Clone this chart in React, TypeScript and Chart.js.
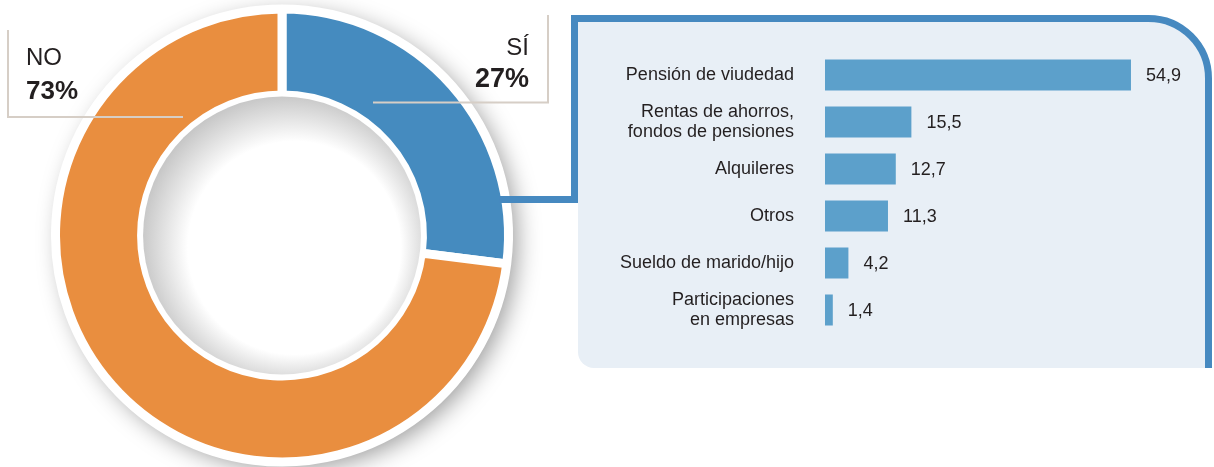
import React, { useEffect, useRef } from "react";
import { Chart, registerables } from "chart.js";

Chart.register(...registerables);

// ---------- data ----------
const pieLabels = ["SÍ", "NO"];
const pieValues = [27, 73];
const pieValueLabels = ["27%", "73%"];

const barCategories: string[][] = [
  ["Pensión de viudedad"],
  ["Rentas de ahorros,", "fondos de pensiones"],
  ["Alquileres"],
  ["Otros"],
  ["Sueldo de marido/hijo"],
  ["Participaciones", "en empresas"],
];
const barValues = [54.9, 15.5, 12.7, 11.3, 4.2, 1.4];

// ---------- styles ----------
const FONT = '"Liberation Sans", Arial, Helvetica, sans-serif';
const TEXT = "#231f20";
const BLUE = "#458bbf";
const ORANGE = "#e98e3f";
const PANEL_BORDER = "#4689c0";
const PANEL_FILL = "#e8eff6";
const BAR = "#5ca0cb";
const BOX_LINE = "#d6cec6";

const fmt = (v: number) => v.toFixed(1).replace(".", ",");

export default function App() {
  const pieRef = useRef<HTMLCanvasElement>(null);
  const barRef = useRef<HTMLCanvasElement>(null);

  useEffect(() => {
    if (!pieRef.current || !barRef.current) return;

    const donutDecor = {
      id: "donutDecor",
      beforeDraw(chart: any) {
        const ctx = chart.ctx;
        ctx.save();
        // right panel fill
        ctx.fillStyle = PANEL_FILL;
        ctx.beginPath();
        ctx.moveTo(578, 22);
        ctx.arcTo(1205, 22, 1205, 368, 55);
        ctx.lineTo(1205, 368);
        ctx.arcTo(578, 368, 578, 22, 16);
        ctx.closePath();
        ctx.fill();
        ctx.restore();
      },
      beforeDatasetsDraw(chart: any) {
        const arc = chart.getDatasetMeta(0).data[0];
        if (!arc) return;
        const ctx = chart.ctx;
        ctx.save();
        ctx.shadowColor = "rgba(0,0,0,0.4)";
        ctx.shadowBlur = 24;
        ctx.shadowOffsetX = 7;
        ctx.shadowOffsetY = 6;
        ctx.fillStyle = "#ffffff";
        ctx.beginPath();
        ctx.arc(arc.x, arc.y, arc.outerRadius + 1, 0, Math.PI * 2);
        ctx.fill();
        ctx.restore();
      },
      afterDatasetsDraw(chart: any) {
        const arc = chart.getDatasetMeta(0).data[0];
        if (!arc) return;
        const ctx = chart.ctx;
        const cx = arc.x, cy = arc.y;
        const r = arc.innerRadius - 1.5;
        ctx.save();
        const g = ctx.createRadialGradient(cx + 22, cy + 22, 40, cx + 6, cy + 6, r + 12);
        g.addColorStop(0, "#ffffff");
        g.addColorStop(0.6, "#ffffff");
        g.addColorStop(1, "#c2c2c2");
        ctx.fillStyle = g;
        ctx.beginPath();
        ctx.arc(cx, cy, r, 0, Math.PI * 2);
        ctx.fill();
        ctx.restore();
      },
      afterDraw(chart: any) {
        const ctx = chart.ctx;
        const arc = chart.getDatasetMeta(0).data[0];
        ctx.save();
        // panel border + connector
        const yc = 199.5;
        const startX = arc
          ? arc.x + Math.sqrt(Math.pow(arc.outerRadius - 4.5, 2) - Math.pow(arc.y - yc, 2)) - 2
          : 501;
        ctx.strokeStyle = PANEL_BORDER;
        ctx.lineWidth = 7;
        ctx.lineJoin = "miter";
        ctx.lineCap = "butt";
        ctx.beginPath();
        ctx.moveTo(startX, yc);
        ctx.lineTo(574.5, yc);
        ctx.lineTo(574.5, 18.5);
        ctx.arcTo(1208.5, 18.5, 1208.5, 368, 60);
        ctx.lineTo(1208.5, 368);
        ctx.stroke();

        // label boxes
        ctx.strokeStyle = BOX_LINE;
        ctx.lineWidth = 2;
        ctx.beginPath();
        ctx.moveTo(8, 30);
        ctx.lineTo(8, 117);
        ctx.lineTo(183, 117);
        ctx.stroke();
        ctx.beginPath();
        ctx.moveTo(548, 15);
        ctx.lineTo(548, 102.5);
        ctx.lineTo(373, 102.5);
        ctx.stroke();

        // label texts
        ctx.fillStyle = TEXT;
        ctx.textBaseline = "alphabetic";
        ctx.textAlign = "left";
        ctx.font = `24px ${FONT}`;
        ctx.fillText(pieLabels[1], 26, 65);
        ctx.font = `bold 26px ${FONT}`;
        ctx.fillText(pieValueLabels[1], 26, 99);
        ctx.textAlign = "right";
        ctx.font = `24px ${FONT}`;
        ctx.fillText(pieLabels[0], 529, 55);
        ctx.font = `bold 27px ${FONT}`;
        ctx.fillText(pieValueLabels[0], 529, 87);
        ctx.restore();
      },
    };

    const pie = new Chart(pieRef.current, {
      type: "doughnut",
      data: {
        labels: pieLabels,
        datasets: [
          {
            data: pieValues,
            backgroundColor: [BLUE, ORANGE],
            borderColor: "#ffffff",
            borderWidth: 9,
            hoverBorderWidth: 9,
          },
        ],
      },
      options: {
        responsive: false,
        animation: false,
        events: [],
        radius: 226.5,
        cutout: "62%",
        layout: { padding: { left: 0, right: 650, top: 4, bottom: 0 } },
        plugins: { legend: { display: false }, tooltip: { enabled: false } },
      } as any,
      plugins: [donutDecor],
    });

    const valueLabels = {
      id: "valueLabels",
      afterDatasetsDraw(chart: any) {
        const ctx = chart.ctx;
        const meta = chart.getDatasetMeta(0);
        ctx.save();
        ctx.fillStyle = TEXT;
        ctx.font = `18px ${FONT}`;
        ctx.textAlign = "left";
        ctx.textBaseline = "middle";
        meta.data.forEach((bar: any, i: number) => {
          ctx.fillText(fmt(barValues[i]), bar.x + 15, bar.y + 1);
        });
        ctx.restore();
      },
    };

    const bar = new Chart(barRef.current, {
      type: "bar",
      data: {
        labels: barCategories,
        datasets: [
          {
            data: barValues,
            backgroundColor: BAR,
            barPercentage: 0.66,
            categoryPercentage: 1,
          },
        ],
      },
      options: {
        indexAxis: "y",
        responsive: false,
        animation: false,
        events: [],
        layout: { padding: { top: 51.5, bottom: 133.5, left: 0, right: 54.6 } },
        scales: {
          x: { display: false, min: 0, max: 60 },
          y: {
            afterFit: (s: any) => {
              s.width = 247;
            },
            grid: { display: false },
            border: { display: false },
            ticks: {
              padding: 23,
              color: TEXT,
              font: { family: FONT, size: 18, lineHeight: 1.1 },
            },
          },
        },
        plugins: { legend: { display: false }, tooltip: { enabled: false } },
      } as any,
      plugins: [valueLabels],
    });

    return () => {
      pie.destroy();
      bar.destroy();
    };
  }, []);

  return (
    <div
      style={{
        position: "fixed",
        left: 0,
        top: 0,
        width: 1214,
        height: 467,
        background: "#ffffff",
        overflow: "hidden",
      }}
    >
      <canvas
        ref={pieRef}
        width={1214}
        height={467}
        style={{ position: "absolute", left: 0, top: 0, width: 1214, height: 467 }}
      />
      <canvas
        ref={barRef}
        width={636}
        height={467}
        style={{ position: "absolute", left: 578, top: 0, width: 636, height: 467 }}
      />
    </div>
  );
}
